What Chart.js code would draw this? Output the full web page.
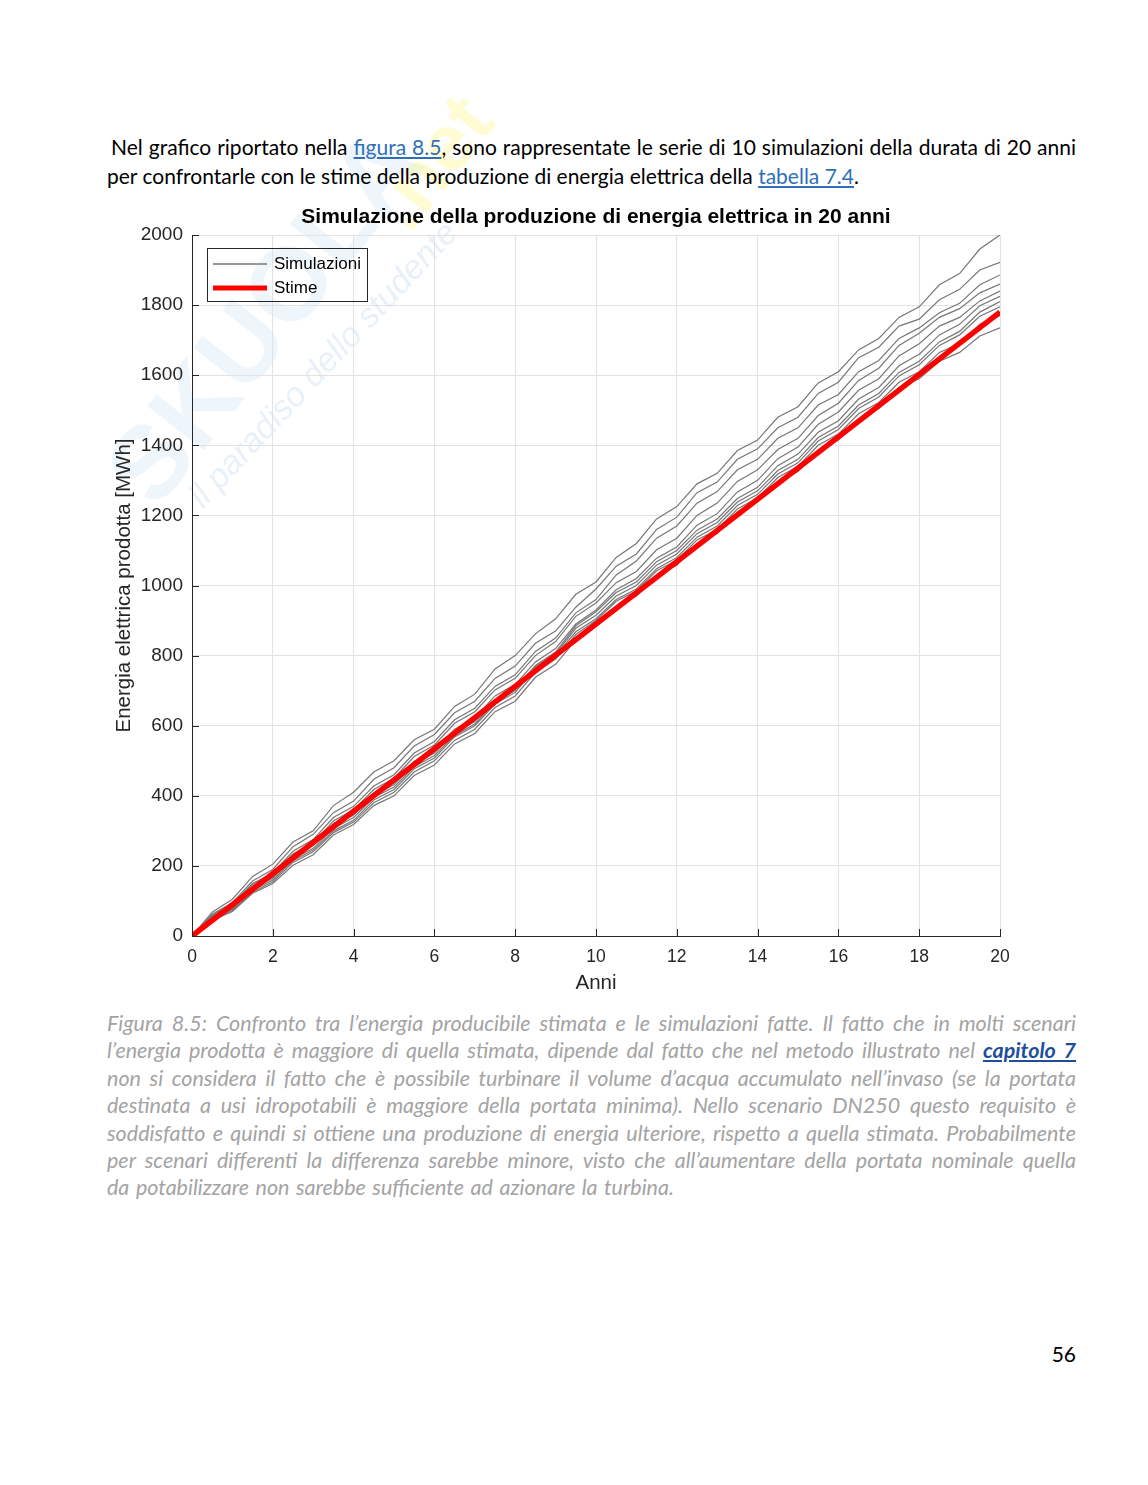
<!DOCTYPE html>
<html><head><meta charset="utf-8">
<script src="https://cdn.jsdelivr.net/npm/chart.js@4/dist/chart.umd.min.js"></script>
<style>
html,body{margin:0;padding:0;background:#fff;}
#page{position:relative;width:1148px;height:1485px;overflow:hidden;background:#fff;}
.txt{position:absolute;left:107px;width:969px;font-family:Lato,"Open Sans",sans-serif;}
.ln{text-align:justify;text-align-last:justify;}
.last{text-align:left;text-align-last:left;}
#intro{top:132px;line-height:29px;color:#000;font-size:21px;}
#caption{top:1010px;line-height:27.4px;color:#a3a3a3;font-style:italic;font-size:21.5px;}
#caption .last{word-spacing:1.5px;}
a{color:#2f6fba;text-decoration:underline;}
#caption a{color:#1f4f9a;font-weight:bold;}
#pg{position:absolute;left:1030px;width:46px;text-align:right;top:1341px;font-family:Lato,sans-serif;font-size:21px;color:#000;}
#chartbox{position:absolute;left:100px;top:200px;width:940px;height:800px;}
.wm{position:absolute;white-space:nowrap;transform-origin:0 0;pointer-events:none;}
</style></head>
<body><div id="page">
<div class="wm" style="left:82px;top:452px;transform:rotate(-52deg);font:bold 104px 'Liberation Sans',sans-serif;color:rgba(150,200,238,0.16);">SKUOLA</div>
<div class="wm" style="left:352px;top:190px;transform:rotate(-52deg);font:bold 80px 'Liberation Sans',sans-serif;color:rgba(255,245,100,0.28);">.net</div>
<div class="wm" style="left:180px;top:488px;transform:rotate(-47deg);font:italic 34px 'Liberation Sans',sans-serif;color:rgba(150,190,230,0.22);">il paradiso dello studente</div>

<div id="intro" class="txt">
<div class="ln" style="padding-left:4px">Nel grafico riportato nella <a>figura 8.5</a>, sono rappresentate le serie di 10 simulazioni della durata di 20 anni</div>
<div class="ln last">per confrontarle con le stime della produzione di energia elettrica della <a>tabella 7.4</a>.</div>
</div>

<div id="chartbox"><canvas id="c" width="940" height="800"></canvas></div>

<div id="caption" class="txt">
<div class="ln">Figura 8.5: Confronto tra l’energia producibile stimata e le simulazioni fatte. Il fatto che in molti scenari</div>
<div class="ln">l’energia prodotta è maggiore di quella stimata, dipende dal fatto che nel metodo illustrato nel <a>capitolo 7</a></div>
<div class="ln">non si considera il fatto che è possibile turbinare il volume d’acqua accumulato nell’invaso (se la portata</div>
<div class="ln">destinata a usi idropotabili è maggiore della portata minima). Nello scenario DN250 questo requisito è</div>
<div class="ln">soddisfatto e quindi si ottiene una produzione di energia ulteriore, rispetto a quella stimata. Probabilmente</div>
<div class="ln">per scenari differenti la differenza sarebbe minore, visto che all’aumentare della portata nominale quella</div>
<div class="ln last">da potabilizzare non sarebbe sufficiente ad azionare la turbina.</div>
</div>
<div id="pg">56</div>
</div>
<script>
const chartTitle = 'Simulazione della produzione di energia elettrica in 20 anni';
const xAxisTitle = 'Anni';
const yAxisTitle = 'Energia elettrica prodotta [MWh]';
const legendLabels = ['Simulazioni', 'Stime'];
const xTicks = [0,2,4,6,8,10,12,14,16,18,20];
const yTicks = [0,200,400,600,800,1000,1200,1400,1600,1800,2000];

const years = [0,0.5,1,1.5,2,2.5,3,3.5,4,4.5,5,5.5,6,6.5,7,7.5,8,8.5,9,9.5,10,10.5,11,11.5,12,12.5,13,13.5,14,14.5,15,15.5,16,16.5,17,17.5,18,18.5,19,19.5,20];

const sim1 = [0,68,105,170,205,268,300,372,410,468,500,560,590,655,690,762,800,862,905,975,1010,1080,1120,1190,1225,1290,1320,1385,1415,1480,1510,1578,1610,1672,1705,1765,1795,1858,1890,1960,2000];
const sim2 = [0,62,95,157,190,255,290,352,385,447,480,542,575,637,670,735,770,835,870,938,990,1055,1090,1160,1195,1265,1295,1360,1390,1450,1480,1548,1580,1650,1680,1740,1760,1815,1845,1900,1922];
const sim3 = [0,57,88,148,180,242,275,338,370,428,460,522,555,617,650,712,745,812,850,922,960,1030,1070,1135,1170,1235,1268,1330,1360,1420,1450,1515,1545,1610,1642,1705,1735,1778,1805,1858,1886];
const sim4 = [0,60,92,150,178,235,265,328,360,418,450,512,545,607,640,702,735,800,840,912,950,1008,1040,1102,1135,1200,1235,1297,1330,1388,1420,1485,1520,1585,1620,1685,1720,1765,1790,1835,1860];
const sim5 = [0,55,85,143,175,232,262,320,350,408,440,498,530,590,622,685,718,782,820,890,930,988,1020,1078,1110,1172,1205,1267,1300,1362,1395,1460,1495,1557,1590,1655,1690,1740,1765,1812,1840];
const sim6 = [0,52,80,137,168,226,258,314,345,400,432,490,522,580,612,672,705,772,810,885,925,980,1010,1068,1100,1158,1190,1248,1280,1342,1375,1437,1470,1532,1565,1627,1660,1715,1745,1798,1825];
const sim7 = [0,50,78,135,165,220,250,307,338,395,425,483,515,572,605,667,700,768,805,878,915,970,1000,1058,1090,1148,1180,1238,1270,1328,1360,1422,1455,1515,1548,1608,1640,1695,1725,1780,1810];
const sim8 = [0,48,75,130,160,215,245,300,330,388,418,477,508,568,600,662,695,762,800,868,905,960,990,1048,1080,1138,1170,1228,1260,1318,1350,1412,1445,1505,1538,1598,1630,1685,1715,1768,1795];
const sim9 = [0,45,72,125,155,210,240,295,325,380,410,468,500,558,590,652,685,752,790,860,900,955,985,1042,1072,1130,1160,1218,1250,1308,1340,1400,1432,1490,1522,1580,1610,1665,1690,1745,1770];
const sim10 = [0,44,70,122,150,202,232,288,318,372,400,458,488,548,578,640,670,738,775,845,885,940,970,1028,1058,1118,1148,1210,1240,1295,1325,1385,1415,1475,1505,1565,1590,1640,1665,1712,1735];

const stimeYears = [0, 20];
const stimeValues = [0, 1780];

const simulations = [sim1, sim2, sim3, sim4, sim5, sim6, sim7, sim8, sim9, sim10];
const FONT = "'Liberation Sans', Arial, sans-serif";
const AXIS_COLOR = '#262626';
const SIM_COLOR = '#777777';

const datasets = [{
  label: legendLabels[1],
  data: stimeYears.map((x, i) => ({x, y: stimeValues[i]})),
  borderColor: '#ff0000', borderWidth: 5.5, pointRadius: 0, order: 0, borderCapStyle: 'butt'
}];
simulations.forEach((s, k) => datasets.push({
  label: legendLabels[0] + ' ' + (k + 1),
  data: years.map((x, i) => ({x, y: s[i]})),
  borderColor: SIM_COLOR, borderWidth: 1.2, pointRadius: 0, order: 1
}));

const matlabAxes = {
  id: 'matlabAxes',
  afterDraw(chart) {
    const {ctx, chartArea: a, scales: {x, y}} = chart;
    ctx.save();
    ctx.strokeStyle = AXIS_COLOR; ctx.lineWidth = 1;
    ctx.beginPath();
    xTicks.forEach(v => { const px = Math.round(x.getPixelForValue(v)) + 0.5; ctx.moveTo(px, a.bottom); ctx.lineTo(px, a.bottom - 7); });
    yTicks.forEach(v => { const py = Math.round(y.getPixelForValue(v)) + 0.5; ctx.moveTo(a.left, py); ctx.lineTo(a.left + 7, py); });
    ctx.stroke();
    // legend box
    const lx = a.left + 15, ly = a.top + 13, lw = 160, lh = 53;
    ctx.strokeStyle = '#262626'; ctx.lineWidth = 1;
    ctx.strokeRect(Math.round(lx) + 0.5, Math.round(ly) + 0.5, lw, lh);
    ctx.beginPath();
    ctx.strokeStyle = SIM_COLOR; ctx.lineWidth = 1.3;
    ctx.moveTo(lx + 6, ly + 16); ctx.lineTo(lx + 60, ly + 16); ctx.stroke();
    ctx.beginPath();
    ctx.strokeStyle = '#ff0000'; ctx.lineWidth = 5;
    ctx.moveTo(lx + 6, ly + 40); ctx.lineTo(lx + 60, ly + 40); ctx.stroke();
    ctx.fillStyle = '#000'; ctx.font = '17px ' + FONT; ctx.textBaseline = 'middle'; ctx.textAlign = 'left';
    ctx.fillText(legendLabels[0], lx + 67, ly + 16);
    ctx.fillText(legendLabels[1], lx + 67, ly + 40);
    ctx.restore();
  }
};

new Chart(document.getElementById('c'), {
  type: 'line',
  data: { datasets },
  options: {
    responsive: false, animation: false, devicePixelRatio: 1,
    layout: { padding: { right: 40 } },
    plugins: {
      legend: { display: false },
      tooltip: { enabled: false },
      title: { display: true, text: chartTitle, fullSize: false, color: '#000',
        font: { family: FONT, size: 21, weight: 'bold' }, padding: { top: 5, bottom: 4.8 } }
    },
    scales: {
      x: {
        type: 'linear', min: 0, max: 20,
        afterFit: s => { s.height = 64; },
        ticks: { stepSize: 2, color: AXIS_COLOR, padding: 11, font: { family: FONT, size: 17.5 }, callback: v => String(v) },
        grid: { color: '#e2e2e2', drawTicks: false },
        border: { color: AXIS_COLOR, width: 1 },
        title: { display: true, text: xAxisTitle, color: AXIS_COLOR, font: { family: FONT, size: 20.5 }, padding: { top: 0, bottom: 4.7 } }
      },
      y: {
        type: 'linear', min: 0, max: 2000,
        afterFit: s => { s.width = 92; },
        ticks: { stepSize: 200, color: AXIS_COLOR, padding: 9, font: { family: FONT, size: 19 }, callback: v => String(v) },
        grid: { color: '#e2e2e2', drawTicks: false },
        border: { color: AXIS_COLOR, width: 1 },
        title: { display: true, text: yAxisTitle, color: AXIS_COLOR, font: { family: FONT, size: 20.5 }, padding: { top: 11.7, bottom: 0 } }
      }
    }
  },
  plugins: [matlabAxes]
});
</script>
</body></html>
